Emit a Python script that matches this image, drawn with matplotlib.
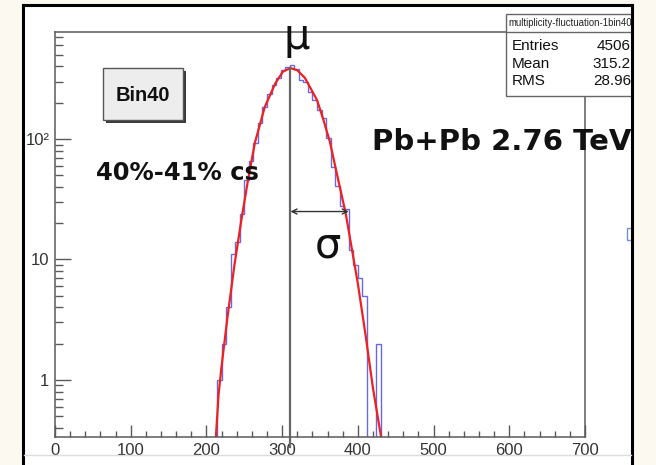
import numpy as np
import matplotlib
matplotlib.use("Agg")
import matplotlib.pyplot as plt
from matplotlib.patches import Rectangle
from matplotlib.lines import Line2D
from matplotlib.ticker import MultipleLocator, LogLocator, FixedLocator, FuncFormatter, NullFormatter

# histogram: bin width 6, first bin starts at 214
bin_start = 214
bin_width = 6
counts = [1, 2, 4, 11, 14, 24, 46, 66, 93, 136, 184, 236, 280, 321, 374, 396, 411,
          380, 306, 297, 244, 210, 174, 149, 102, 58, 41, 28, 26, 12, 9, 7, 5,
          0, 0, 2]

# fitted curve
fit_x = [212, 216, 220, 228, 237, 246, 255, 264, 277, 291, 301, 311, 320, 330, 346, 354, 363, 374, 384, 400, 410, 420, 432]
fit_y = [0.3, 0.75, 1.3, 3.4, 9, 21, 46, 93, 184, 290, 362, 388, 372, 322, 211, 148, 95, 46, 24, 6.3, 2.4, 0.85, 0.3]

mean_x = 311
sigma_end = 388
arrow_y = 25
stats_names = ["Entries", "Mean", "RMS"]
stats_vals = ["4506", "315.2", "28.96"]
xticks = [0, 100, 200, 300, 400, 500, 600, 700]

W, H = 656, 465
cream = "#fcfaf0"
axcol = "#5a5a5a"

def fx(x):
    return x / W

def fy(y):
    return 1 - y / H

fig = plt.figure(figsize=(W / 100, H / 100), dpi=100, facecolor=cream)

# white canvas inside the slide frame
fig.add_artist(Rectangle((fx(23), 0), fx(632) - fx(23), fy(5), transform=fig.transFigure,
                         facecolor="white", edgecolor="none", zorder=0))

ax = fig.add_axes([fx(55), fy(437), fx(585) - fx(55), fy(32) - fy(437)])
ax.set_facecolor("white")
ax.set_xlim(0, 700)
ax.set_yscale("log")
ax.set_ylim(0.336, 773)

edges = bin_start + bin_width * np.arange(len(counts) + 1)
vals = np.where(np.array(counts) > 0, counts, 1e-3)
ax.stairs(vals, edges, baseline=1e-3, color="#6868e4", lw=1.0)
ax.plot(fit_x, fit_y, color="#ee2020", lw=1.6)

# mean line and sigma arrow
lo, hi = np.log10(ax.get_ylim())
top_frac = (np.log10(388) - lo) / (hi - lo)
ax.axvline(mean_x, ymin=-0.025, ymax=top_frac, color="#666666", lw=1.6, clip_on=False)
ax.annotate("", xy=(mean_x, arrow_y), xytext=(sigma_end, arrow_y),
            arrowprops=dict(arrowstyle="<->", color="#333333", lw=1.0, mutation_scale=9,
                            shrinkA=0, shrinkB=0))

for s in ax.spines.values():
    s.set_color(axcol)
    s.set_linewidth(1.1)

ax.xaxis.set_major_locator(FixedLocator(xticks))
ax.xaxis.set_minor_locator(MultipleLocator(20))
ax.yaxis.set_major_locator(FixedLocator([1, 10, 100]))
ax.yaxis.set_minor_locator(LogLocator(base=10, subs=np.arange(2, 10)))
ax.yaxis.set_minor_formatter(NullFormatter())
labs = {1: "1", 10: "10", 100: "10²"}
ax.yaxis.set_major_formatter(FuncFormatter(lambda v, p: labs.get(int(round(v)), "")))
ax.tick_params(axis="x", which="major", direction="in", length=9, width=1.0, color=axcol,
               labelsize=12, pad=4, labelcolor="#333333")
ax.tick_params(axis="x", which="minor", direction="in", length=4.5, width=1.0, color=axcol)
ax.tick_params(axis="y", which="major", direction="in", length=11.5, width=1.0, color=axcol,
               labelsize=12, pad=4, labelcolor="#333333")
ax.tick_params(axis="y", which="minor", direction="in", length=6, width=1.0, color=axcol)
for t in ax.get_xticklabels() + ax.get_yticklabels():
    t.set_family("Liberation Sans")

# Bin40 label box with shadow
fig.add_artist(Rectangle((fx(106), fy(123)), fx(80), fy(68) - fy(120), transform=fig.transFigure,
                         facecolor="#3a3a3a", edgecolor="none", zorder=4))
fig.add_artist(Rectangle((fx(103), fy(120)), fx(80), fy(68) - fy(120), transform=fig.transFigure,
                         facecolor="#ededed", edgecolor="#555555", lw=1.0, zorder=5))
fig.text(fx(143), fy(95), "Bin40", family="Liberation Sans", weight="bold", fontsize=14.5,
         ha="center", va="center", color="#111111", zorder=6)

# stats box
fig.add_artist(Rectangle((fx(506), fy(96)), fx(640) - fx(506), fy(14) - fy(96), transform=fig.transFigure,
                         facecolor="white", edgecolor="#666666", lw=1.0, zorder=5))
fig.add_artist(Line2D([fx(506), fx(640)], [fy(32), fy(32)], transform=fig.transFigure,
                      color="#666666", lw=1.0, zorder=6))
fig.text(fx(508), fy(23), "multiplicity-fluctuation-1bin40", family="Liberation Sans", fontsize=6.9,
         ha="left", va="center", color="#222222", zorder=6)
for i, (n, v) in enumerate(zip(stats_names, stats_vals)):
    yy = 46 + 17.5 * i
    fig.text(fx(512), fy(yy), n, family="Liberation Sans", fontsize=11, ha="left", va="center",
             color="#111111", zorder=6)
    fig.text(fx(631), fy(yy), v, family="Liberation Sans", fontsize=11, ha="right", va="center",
             color="#111111", zorder=6)

# cream margin right of frame, hides overflow of the stats box
fig.add_artist(Rectangle((fx(633), 0), 1 - fx(633), 1, transform=fig.transFigure,
                         facecolor=cream, edgecolor="none", zorder=7))

# annotations
fig.text(fx(297), fy(49), "μ", family="DejaVu Sans", fontsize=30, ha="center", va="baseline",
         color="#111111", zorder=8)
fig.text(fx(328), fy(257), "σ", family="DejaVu Sans", fontsize=30, ha="center", va="baseline",
         color="#111111", zorder=8)
fig.text(fx(96), fy(180), "40%-41% cs", family="DejaVu Sans", weight="bold", fontsize=17.5,
         ha="left", va="baseline", color="#111111", zorder=8)
fig.text(fx(372), fy(150), "Pb+Pb 2.76 TeV", family="DejaVu Sans", weight="bold", fontsize=21,
         ha="left", va="baseline", color="#111111", zorder=9)

# small stray blue mark at the right edge
fig.add_artist(Rectangle((fx(627), fy(240)), fx(5), fy(228) - fy(240), transform=fig.transFigure,
                         facecolor="white", edgecolor="#6f8fd8", lw=1.0, zorder=7.5))

# slide frame
for xs, ys in [([23, 23], [5, 465]), ([23, 632], [5, 5]), ([632, 632], [5, 465])]:
    fig.add_artist(Line2D([fx(x) for x in xs], [fy(y) for y in ys], transform=fig.transFigure,
                          color="black", lw=2.2, zorder=8.5))
fig.add_artist(Line2D([fx(24), fx(631)], [fy(455), fy(455)], transform=fig.transFigure,
                      color="#dddddd", lw=1.0, zorder=8.5))

fig.savefig("out.png", dpi=100, facecolor=cream)
